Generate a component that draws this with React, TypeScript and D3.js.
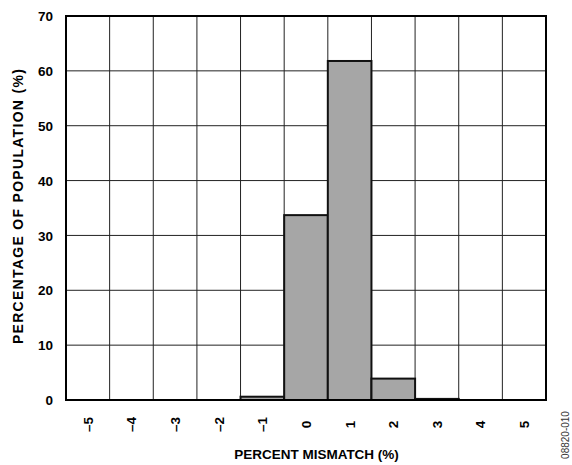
import React from 'react';
import * as d3 from 'd3';

const categories = [-5, -4, -3, -2, -1, 0, 1, 2, 3, 4, 5];
const percentages = [0, 0, 0, 0, 0.6, 33.7, 61.8, 3.9, 0.2, 0, 0];
const yTicks = [0, 10, 20, 30, 40, 50, 60, 70];

const App: React.FC = () => {
  const width = 572;
  const height = 465;
  const margin = { top: 16, right: 26, bottom: 65, left: 66 };
  const font = '"Liberation Sans", Arial, sans-serif';

  const x = d3.scaleBand<number>()
    .domain(categories)
    .range([margin.left, width - margin.right])
    .padding(0);

  const y = d3.scaleLinear()
    .domain([0, 70])
    .range([height - margin.bottom, margin.top]);

  const fmt = (v: number) => (v < 0 ? '\u2013' + Math.abs(v) : String(v));

  return (
    <svg width={width} height={height} style={{ position: 'absolute', left: 0, top: 0, background: '#fff' }}>
      {/* grid */}
      {yTicks.slice(1, -1).map((t) => (
        <line key={'gy' + t} x1={margin.left} x2={width - margin.right} y1={y(t)} y2={y(t)} stroke="#222" strokeWidth={1} />
      ))}
      {categories.slice(1).map((c) => (
        <line key={'gx' + c} x1={x(c)!} x2={x(c)!} y1={margin.top} y2={height - margin.bottom} stroke="#222" strokeWidth={1} />
      ))}
      {/* bars */}
      {categories.map((c, i) =>
        percentages[i] > 0 ? (
          <rect
            key={'b' + c}
            x={x(c)!}
            y={y(percentages[i])}
            width={x.bandwidth()}
            height={y(0) - y(percentages[i])}
            fill="#a6a6a6"
            stroke="#111"
            strokeWidth={2}
          />
        ) : null
      )}
      {/* frame */}
      <rect
        x={margin.left}
        y={margin.top}
        width={width - margin.left - margin.right}
        height={height - margin.top - margin.bottom}
        fill="none"
        stroke="#000"
        strokeWidth={2}
      />
      {/* y ticks */}
      {yTicks.map((t) => (
        <text key={'yt' + t} x={margin.left - 13} y={y(t)} dy="0.38em" textAnchor="end"
          fontFamily={font} fontWeight="bold" fontSize={13.5}>{t}</text>
      ))}
      {/* x ticks */}
      {categories.map((c) => (
        <text key={'xt' + c}
          transform={`translate(${x(c)! + x.bandwidth() / 2},${height - margin.bottom + 24.5}) rotate(-90)`}
          textAnchor="middle" dy="0.36em"
          fontFamily={font} fontWeight="bold" fontSize={13.5}>{fmt(c)}</text>
      ))}
      <text x={316.5} y={459} textAnchor="middle"
        fontFamily={font} fontWeight="bold" fontSize={13.5}>PERCENT MISMATCH (%)</text>
      <text transform={`translate(23,206) rotate(-90)`}
        textAnchor="middle" fontFamily={font} fontWeight="bold" fontSize={14} letterSpacing={1.3}>PERCENTAGE OF POPULATION (%)</text>
      <text transform={`translate(565,435) rotate(-90)`} textAnchor="middle" dy="0.35em"
        fontFamily={font} fontSize={10} fill="#333">08820-010</text>
    </svg>
  );
};

export default App;
